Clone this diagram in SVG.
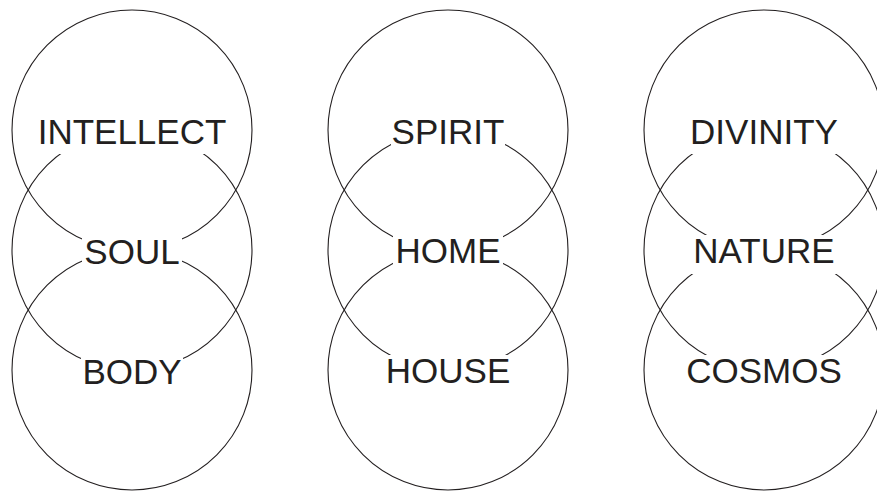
<svg xmlns="http://www.w3.org/2000/svg" width="877" height="491" viewBox="0 0 877 491">
<style>
.c{fill:none;stroke:#231f20;stroke-width:1.1}
.t{font-family:"Liberation Sans",Arial,Helvetica,sans-serif;font-size:35px;fill:#231f20;text-anchor:middle}
</style>
<defs>
<mask id="halo" maskUnits="userSpaceOnUse" x="0" y="0" width="877" height="491">
<rect x="0" y="0" width="877" height="491" fill="#fff"/>
<g fill="#000">
<rect x="38" y="115" width="189" height="39"/>
<rect x="82" y="235" width="100" height="39"/>
<rect x="81" y="355" width="102" height="39"/>
<rect x="391" y="115" width="114" height="39"/>
<rect x="393" y="235" width="110" height="39"/>
<rect x="385" y="355" width="126" height="39"/>
<rect x="689" y="115" width="150" height="39"/>
<rect x="691" y="235" width="146" height="39"/>
<rect x="684" y="355" width="160" height="39"/>
</g>
</mask>
</defs>
<g id="connectors"></g>
<g id="intellect"><circle class="c" cx="132" cy="130" r="120" mask="url(#halo)"/><text class="t" x="132" y="144">INTELLECT</text></g>
<g id="soul"><circle class="c" cx="132" cy="250" r="120" mask="url(#halo)"/><text class="t" x="132" y="264">SOUL</text></g>
<g id="body"><circle class="c" cx="132" cy="370" r="120" mask="url(#halo)"/><text class="t" x="132" y="384">BODY</text></g>
<g id="spirit"><circle class="c" cx="448" cy="130" r="120" mask="url(#halo)"/><text class="t" x="448" y="144">SPIRIT</text></g>
<g id="home"><circle class="c" cx="448" cy="250" r="120" mask="url(#halo)"/><text class="t" x="448" y="263">HOME</text></g>
<g id="house"><circle class="c" cx="448" cy="370" r="120" mask="url(#halo)"/><text class="t" x="448" y="383">HOUSE</text></g>
<g id="divinity"><circle class="c" cx="764" cy="130" r="120" mask="url(#halo)"/><text class="t" x="764" y="144">DIVINITY</text></g>
<g id="nature"><circle class="c" cx="764" cy="250" r="120" mask="url(#halo)"/><text class="t" x="764" y="263">NATURE</text></g>
<g id="cosmos"><circle class="c" cx="764" cy="370" r="120" mask="url(#halo)"/><text class="t" x="764" y="383">COSMOS</text></g>
</svg>
